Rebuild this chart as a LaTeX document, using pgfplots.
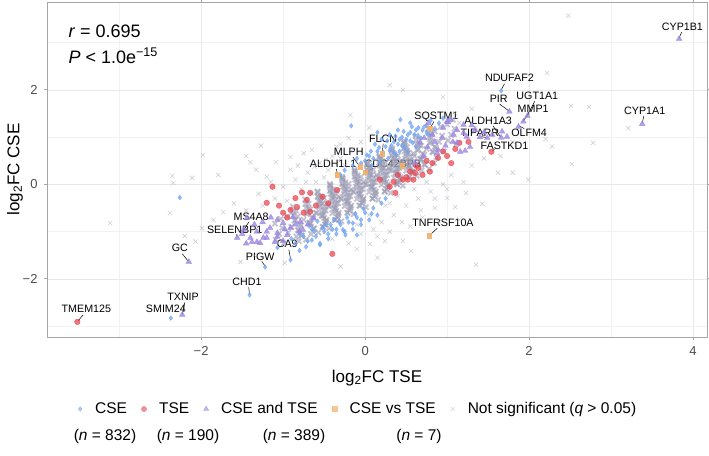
\documentclass[border=0pt]{standalone}
\usepackage{pgfplots}
\pgfplotsset{compat=1.18}
\usepackage{fontspec}
\setmainfont{Liberation Sans}

\definecolor{cseblue}{RGB}{112,164,242}
\definecolor{tsered}{RGB}{232,72,82}
\definecolor{bothpurple}{RGB}{156,134,226}
\definecolor{vsorange}{RGB}{242,176,104}
\definecolor{nsgray}{RGB}{160,160,178}
\definecolor{coregray}{RGB}{155,155,180}
\definecolor{ticktext}{RGB}{77,77,77}

\begin{document}
\begin{tikzpicture}
\path[use as bounding box] (-47bp,-119bp) rectangle (662bp,337bp);
\begin{axis}[
    at={(0,0)}, anchor=south west,
    scale only axis, width=660bp, height=335bp,
    xmin=-3.88, xmax=4.17, ymin=-3.23, ymax=3.86,
    xtick={-2,0,2,4}, ytick={-2,0,2},
    xticklabels={−2,0,2,4}, yticklabels={−2,0,2},
    minor xtick={-3,-1,1,3}, minor ytick={-3,-1,1,3},
    grid=both,
    major grid style={color=black!9, line width=0.6bp},
    minor grid style={color=black!5, line width=0.4bp},
    axis line style={color=black!35, line width=0.8bp},
    tick style={color=black!35, line width=0.8bp},
    tick align=outside, major tick length=3bp, minor tick length=0pt,
    ticklabel style={font=\fontsize{13bp}{15bp}\selectfont, text=ticktext},
    xticklabel style={yshift=-3bp},
    yticklabel style={xshift=-3bp},
    xlabel={log\textsubscript{2}FC TSE},
    ylabel={log\textsubscript{2}FC CSE},
    label style={font=\fontsize{17bp}{19bp}\selectfont},
    xlabel style={at={(axis description cs:0.5,-0.1224)}, anchor=center},
    ylabel style={at={(axis description cs:-0.0485,0.5)}, anchor=center},
    legend image code/.code={\path[draw=none,fill=none] (0bp,-2bp) rectangle (19bp,2bp);
        \draw[mark repeat=2,mark phase=2,#1] plot coordinates {(0bp,0bp) (6bp,0bp) (19bp,0bp)};},
    legend columns=5,
    legend style={at={(axis description cs:0.0409,-0.215)}, anchor=west,
        inner sep=0pt, draw=none, fill=none, font=\fontsize{15.5bp}{17bp}\selectfont,
        /tikz/every even column/.append style={column sep=9bp}},
]

% not significant, sparse halo
\addplot[only marks, mark=x, mark size=3bp, color=nsgray, opacity=0.5,
    mark options={line width=0.6bp}, forget plot] coordinates {
(-1.98,0.62) (-1.79,0.20) (-1.45,0.60) (-1.40,0.47) (-1.27,0.82) (-1.09,0.47)
(-1.33,0.31) (-1.20,0.16) (-2.35,0.18) (-2.34,0.03) (-2.11,0.14) (-0.91,0.58)
(-0.75,0.66) (-0.65,0.73) (-0.91,0.31) (-0.18,1.47) (-0.20,0.98) (-0.55,0.45)
(-0.70,0.25) (-0.85,0.10) (-1.00,-0.05) (-0.60,0.05) (-0.45,0.30) (-0.30,0.55)
(-0.35,0.80) (-0.15,0.75) (-1.10,-0.30) (-0.95,-0.35) (-0.78,-0.10) (-0.65,-0.20)
(-0.50,0.15) (-0.40,0.60) (-0.25,0.40) (-1.25,-0.45) (-1.45,-0.55)
(-3.11,-0.82) (-2.38,-0.61) (-2.20,-1.09) (-2.07,-1.21) (-1.73,-0.59) (-1.99,-0.93)
(-1.52,-1.64) (-0.98,-1.66) (-1.60,-0.40) (-1.85,-0.75) (-1.35,-1.50)
(1.35,-1.70) (0.56,-1.41) (0.46,-1.20) (1.43,-0.41) (1.10,-0.48) (1.00,-0.29)
(1.23,-0.18) (0.06,-1.26) (-0.10,-1.37) (0.24,-1.20) (0.55,-0.89) (-0.30,-1.74)
(0.20,-0.80) (0.35,-0.65) (0.50,-0.45) (0.65,-0.30) (0.80,-0.15) (0.95,0.00)
(0.10,-0.95) (0.30,-1.00) (0.70,-0.70) (0.85,-0.50) (1.20,0.05) (1.05,0.20)
(0.75,0.05) (0.60,-0.10) (0.40,-0.25) (0.25,-0.45) (0.05,-0.65) (-0.10,-0.85)
(-0.25,-1.00) (-0.40,-1.15) (-0.05,-1.05) (0.90,-0.80) (1.15,-0.75) (0.15,-1.55)
(2.48,3.57) (2.22,2.36) (0.30,2.10) (0.46,2.00) (0.95,1.85) (2.51,1.66)
(2.73,1.64) (3.21,1.19) (2.78,0.88) (2.52,0.43) (1.62,0.25) (1.80,0.25)
(1.99,0.10) (2.20,0.96) (2.28,0.80) (1.30,1.60) (1.10,1.50) (0.70,1.45)
(1.45,0.55) (1.30,0.40) (1.65,0.60) (1.80,0.90) (1.15,1.30) (1.35,1.20)
(-0.82,0.40) (-0.62,0.38) (-0.48,0.52) (-0.72,0.05) (-1.15,0.05) (-1.30,-0.20)
(-0.30,0.85) (-0.05,0.90) (0.05,1.20) (0.85,-0.30) (0.68,-0.55) (0.45,-0.80)
(0.15,-1.10) (-0.20,-1.25) (1.00,-0.10) (0.30,-0.40)
};

% not significant, dense core
\addplot[only marks, mark=x, mark size=3.6bp, color=coregray, opacity=0.6,
    mark options={line width=1.8bp}, forget plot] coordinates {
(-1.05,-1.05) (-1.01,-0.92) (-1.09,-1.17) (-0.99,-1.25) (-1.10,-0.83) (-1.03,-0.73)
(-0.90,-0.90) (-0.86,-0.77) (-0.94,-1.02) (-0.84,-1.10) (-0.95,-0.68) (-0.88,-0.58)
(-0.80,-0.85) (-0.85,-0.75) (-0.82,-0.97) (-0.87,-0.65) (-0.78,-1.08) (-0.84,-0.56)
(-0.81,-1.20) (-0.88,-0.47)
(-0.75,-0.75) (-0.71,-0.63) (-0.78,-0.87) (-0.69,-0.51) (-0.81,-0.97) (-0.73,-0.41)
(-0.77,-1.08) (-0.68,-0.81) (-0.82,-0.68) (-0.72,-1.17)
(-0.65,-0.70) (-0.70,-0.60) (-0.67,-0.82) (-0.72,-0.50) (-0.63,-0.93) (-0.69,-0.41)
(-0.66,-1.05) (-0.73,-0.32)
(-0.60,-0.60) (-0.56,-0.48) (-0.63,-0.72) (-0.54,-0.36) (-0.66,-0.82) (-0.58,-0.26)
(-0.62,-0.93) (-0.53,-0.66) (-0.67,-0.53) (-0.57,-1.02)
(-0.50,-0.47) (-0.55,-0.35) (-0.50,-0.71) (-0.57,-0.24) (-0.48,-0.81) (-0.53,-0.58)
(-0.58,-0.15) (-0.47,-0.41) (-0.59,-0.61) (-0.52,-0.90)
(-0.50,-0.55) (-0.55,-0.45) (-0.52,-0.67) (-0.57,-0.35) (-0.48,-0.78) (-0.54,-0.26)
(-0.51,-0.90) (-0.58,-0.17)
(-0.45,-0.45) (-0.41,-0.35) (-0.48,-0.55) (-0.39,-0.24) (-0.51,-0.65) (-0.43,-0.14)
(-0.47,-0.75) (-0.38,-0.50) (-0.52,-0.40) (-0.42,-0.03) (-0.49,-0.85) (-0.40,-0.61)
(-0.50,-0.29) (-0.44,-0.93)
(-0.36,-0.33) (-0.40,-0.20) (-0.35,-0.56) (-0.42,-0.09) (-0.33,-0.66) (-0.38,-0.43)
(-0.43,0.01) (-0.32,-0.26) (-0.44,-0.46) (-0.37,-0.75)
(-0.35,-0.40) (-0.40,-0.30) (-0.37,-0.52) (-0.42,-0.20) (-0.33,-0.63) (-0.39,-0.11)
(-0.36,-0.75) (-0.43,-0.02)
(-0.30,-0.30) (-0.26,-0.20) (-0.33,-0.40) (-0.24,-0.09) (-0.36,-0.50) (-0.28,0.01)
(-0.32,-0.60) (-0.23,-0.35) (-0.37,-0.25) (-0.27,0.12) (-0.34,-0.70) (-0.25,-0.46)
(-0.35,-0.14) (-0.29,-0.78)
(-0.21,-0.18) (-0.25,-0.05) (-0.20,-0.41) (-0.27,0.07) (-0.18,-0.51) (-0.23,-0.28)
(-0.28,0.16) (-0.17,-0.11) (-0.29,-0.31) (-0.22,-0.60)
(-0.20,-0.25) (-0.25,-0.15) (-0.22,-0.37) (-0.27,-0.05) (-0.18,-0.48) (-0.24,0.04)
(-0.21,-0.60) (-0.28,0.13)
(-0.15,-0.15) (-0.11,-0.05) (-0.18,-0.25) (-0.09,0.06) (-0.21,-0.35) (-0.13,0.16)
(-0.17,-0.45) (-0.08,-0.20) (-0.22,-0.10) (-0.12,0.27) (-0.19,-0.55) (-0.10,-0.31)
(-0.20,0.01) (-0.14,-0.63)
(-0.06,-0.03) (-0.10,0.11) (-0.05,-0.26) (-0.12,0.22) (-0.03,-0.36) (-0.08,-0.13)
(-0.13,0.31) (-0.02,0.05) (-0.14,-0.16) (-0.07,-0.45)
(-0.05,-0.10) (-0.10,0.00) (-0.07,-0.22) (-0.12,0.10) (-0.03,-0.33) (-0.09,0.19)
(-0.06,-0.45) (-0.13,0.28)
(0.00,0.00) (0.04,0.10) (-0.03,-0.10) (0.06,0.21) (-0.06,-0.20) (0.02,0.31)
(-0.02,-0.30) (0.07,-0.05) (-0.07,0.05) (0.03,0.42) (-0.04,-0.40) (0.05,-0.16)
(-0.05,0.16) (0.01,-0.48)
(0.10,0.13) (0.06,0.26) (0.11,-0.11) (0.04,0.37) (0.13,-0.21) (0.08,0.03)
(0.03,0.46) (0.14,0.20) (0.02,0.00) (0.09,-0.30)
(0.10,0.05) (0.05,0.15) (0.08,-0.07) (0.03,0.25) (0.12,-0.18) (0.06,0.34)
(0.09,-0.30) (0.02,0.43)
(0.15,0.15) (0.19,0.25) (0.12,0.05) (0.21,0.36) (0.09,-0.05) (0.17,0.46)
(0.13,-0.15) (0.22,0.10) (0.08,0.20) (0.18,0.57) (0.11,-0.25) (0.20,-0.01)
(0.10,0.31) (0.16,-0.33)
(0.25,0.28) (0.21,0.41) (0.26,0.05) (0.19,0.52) (0.28,-0.06) (0.23,0.18)
(0.18,0.61) (0.29,0.35) (0.17,0.15) (0.24,-0.15)
(0.25,0.20) (0.20,0.30) (0.23,0.08) (0.18,0.40) (0.27,-0.03) (0.21,0.49)
(0.24,-0.15) (0.17,0.58)
(0.30,0.30) (0.34,0.40) (0.27,0.20) (0.36,0.51) (0.24,0.10) (0.32,0.61)
(0.28,0.00) (0.37,0.25) (0.23,0.35) (0.33,0.72) (0.26,-0.10) (0.35,0.14)
(0.25,0.46) (0.31,-0.18)
(0.40,0.43) (0.36,0.56) (0.41,0.20) (0.34,0.67) (0.43,0.10) (0.38,0.33)
(0.33,0.76) (0.44,0.50) (0.32,0.30) (0.39,0.01)
(0.40,0.35) (0.35,0.45) (0.38,0.23) (0.33,0.55) (0.42,0.12) (0.36,0.64)
(0.39,0.00) (0.32,0.73)
(0.45,0.45) (0.49,0.55) (0.42,0.35) (0.51,0.66) (0.39,0.25) (0.47,0.76)
(0.43,0.15) (0.52,0.40) (0.38,0.50) (0.48,0.87) (0.41,0.05) (0.50,0.29)
(0.40,0.61) (0.46,-0.03)
(0.55,0.58) (0.51,0.71) (0.56,0.35) (0.49,0.82) (0.58,0.25) (0.53,0.48)
(0.48,0.91) (0.59,0.65) (0.47,0.45) (0.54,0.16)
(0.55,0.50) (0.50,0.60) (0.53,0.38) (0.48,0.70) (0.57,0.27) (0.51,0.79)
(0.54,0.15) (0.47,0.88)
(0.60,0.60) (0.64,0.72) (0.57,0.48) (0.66,0.84) (0.54,0.38) (0.62,0.94)
(0.58,0.27) (0.67,0.54) (0.53,0.67) (0.63,0.18)
(0.70,0.65) (0.65,0.75) (0.68,0.53) (0.63,0.85) (0.72,0.42) (0.66,0.94)
(0.69,0.30) (0.62,1.03)
(0.75,0.75) (0.79,0.87) (0.72,0.63) (0.81,0.99) (0.69,0.53) (0.77,1.09)
(0.73,0.42) (0.82,0.69) (0.68,0.82) (0.78,0.33)
(0.85,0.80) (0.80,0.90) (0.83,0.68) (0.78,1.00) (0.87,0.57) (0.81,1.09)
(0.84,0.45) (0.77,1.18)
(0.90,0.90) (0.94,1.03) (0.86,0.78) (0.96,0.70) (0.85,1.12) (0.92,1.22)
(1.05,1.05) (1.09,1.18) (1.01,0.93) (1.11,0.85) (1.00,1.27) (1.07,1.37)
};

% CSE
\addplot[only marks, mark=diamond*, mark size=2.4bp, color=cseblue, opacity=0.75, forget plot] coordinates {
(0.10,0.55) (0.15,0.70) (0.20,0.60) (0.25,0.80) (0.30,0.72) (0.35,0.90)
(0.40,0.85) (0.45,1.00) (0.50,0.95) (0.55,1.10) (0.60,1.05) (0.65,1.20)
(0.70,1.15) (0.75,1.25) (0.30,1.05) (0.40,1.15) (0.20,0.95) (0.05,0.60)
(0.00,0.50) (-0.05,0.45) (0.12,0.85) (0.48,0.78) (0.58,0.88) (0.68,0.98)
(0.78,1.05) (0.85,1.18) (0.38,0.62) (0.28,0.55) (0.18,0.48) (0.62,0.80)
(0.52,0.70) (0.42,0.70) (-0.17,1.24) (0.15,1.10) (0.90,1.30) (-0.15,0.40)
(-0.10,0.55) (0.08,0.40) (-0.25,0.30) (-0.30,0.20) (0.43,1.37) (0.55,1.30)
(0.22,0.68) (0.32,0.82) (0.42,0.95) (0.52,1.05) (0.62,1.15) (0.72,1.22)
(0.35,0.68) (0.45,0.82) (0.55,0.92) (0.65,1.02) (0.75,1.10) (0.27,0.92)
(0.37,1.02) (0.47,1.12) (0.57,1.22) (0.17,0.78) (0.07,0.70) (0.02,0.62)
(0.80,1.35) (0.95,1.40)
(-0.60,-1.10) (-0.50,-1.00) (-0.40,-0.95) (-0.30,-0.85) (-0.20,-0.80) (-0.10,-0.70)
(0.00,-0.60) (0.10,-0.50) (-0.70,-1.20) (-0.55,-1.25) (-0.45,-1.15) (-0.35,-1.05)
(-0.25,-1.00) (-0.15,-0.95) (-0.05,-0.85) (0.05,-0.75) (0.15,-0.65) (-0.80,-1.05)
(-0.65,-0.95) (-0.27,-0.96) (-0.10,-1.07) (-0.55,-1.28) (-1.07,-1.34) (-0.85,-1.25)
(0.20,-0.40) (0.25,-0.30) (-0.48,-0.85) (-0.38,-0.75) (-0.58,-0.78) (-0.68,-0.88)
(-0.24,-1.07) (-0.80,-1.40)
(-0.62,-1.00) (-0.52,-0.92) (-0.42,-0.85) (-0.32,-0.78) (-0.22,-0.70) (-0.12,-0.62)
(-0.02,-0.52) (-0.75,-1.10) (-0.65,-1.18) (-0.45,-1.05) (-0.35,-0.95) (-0.15,-0.82)
(-0.05,-0.75) (0.08,-0.62) (-0.90,-1.15) (-0.72,-1.32)
(-2.26,-0.28) (-0.91,-1.60) (-1.22,-1.75) (-1.41,-2.34) (-2.37,-2.83) (1.66,1.98)
};

% TSE
\addplot[only marks, mark=*, mark size=2.8bp, color=tsered, opacity=0.75, forget plot] coordinates {
(0.18,0.10) (0.46,0.10) (0.59,0.10) (0.55,0.27) (0.79,0.27) (0.82,0.45)
(0.89,0.56) (1.26,0.90) (0.35,0.05) (0.65,0.35) (0.70,0.20) (0.95,0.70)
(1.00,0.60) (0.75,0.50) (0.62,0.40) (1.10,0.75) (0.40,0.20) (0.50,0.15)
(1.15,0.88) (0.30,-0.05) (1.05,0.45) (0.37,-0.18) (0.52,0.10) (0.61,0.24)
(-1.13,-0.05) (-1.20,-0.39) (-0.77,-0.17) (-0.67,-0.18) (-0.83,-0.48) (-0.67,-0.58)
(-0.91,-0.54) (-0.71,-0.33) (-0.52,-0.26) (-0.34,-0.12) (-0.85,-0.29) (-1.00,-0.60)
(-0.95,-0.70) (-0.60,-0.45) (-0.75,-0.60) (-1.05,-0.45) (-0.45,-0.40)
(-3.51,-2.91) (1.54,0.69) (-0.40,-1.47)
};

% CSE and TSE
\addplot[only marks, mark=triangle*, mark size=3.3bp, color=bothpurple, opacity=0.8, forget plot] coordinates {
(1.01,1.32) (1.12,1.15) (0.82,1.05) (0.94,0.98) (1.07,0.90) (1.20,1.09)
(1.28,0.79) (1.40,1.00) (0.67,0.88) (0.76,0.79) (0.89,0.73) (1.16,0.69)
(1.04,1.37) (1.20,1.26) (1.34,1.15) (1.24,1.01) (1.12,0.88) (1.22,0.71)
(1.73,1.01) (1.67,1.12) (0.88,0.66) (0.71,0.59) (0.61,0.45) (0.77,1.30)
(1.00,1.33) (0.95,1.20) (1.08,1.05) (0.85,0.90) (1.30,1.25) (1.45,1.10)
(1.55,1.05) (0.72,0.98) (0.98,0.82)
(3.83,3.08) (3.38,1.28) (1.76,1.54) (1.98,1.45) (1.93,1.33) (1.87,1.22)
(1.66,0.99) (1.49,0.98)
(-1.40,-1.13) (-1.24,-1.13) (-1.07,-0.75) (-1.00,-0.82) (-0.88,-0.69) (-0.79,-0.79)
(-0.63,-0.71) (-0.91,-0.92) (-1.16,-0.92) (-1.32,-1.00) (-1.07,-1.03) (-0.76,-0.96)
(-1.44,-0.71) (-1.32,-1.22) (-1.20,-1.13) (-1.07,-1.11) (-0.95,-1.07) (-1.38,-1.22)
(-1.28,-1.24) (-1.25,-0.80) (-1.15,-0.70)
(-1.50,-1.05) (-1.35,-0.85) (-1.20,-1.00) (-0.85,-0.85) (-0.70,-0.85) (-1.10,-1.22)
(-0.98,-0.95) (-1.45,-1.25) (-1.00,-1.20) (-0.80,-1.00)
(-1.48,-0.96) (-1.56,-1.13) (-2.15,-1.64) (-2.23,-2.76)
};

% CSE vs TSE
\addplot[only marks, mark=square*, mark size=2.3bp, color=vsorange, opacity=0.9, forget plot] coordinates {
(0.79,1.19) (0.21,0.65) (-0.06,0.37) (0.78,-1.09) (-0.34,0.20) (0.00,0.26) (0.45,0.40)
};

% gene labels
\begin{scope}[every node/.style={font=\fontsize{10.7bp}{12bp}\selectfont, inner sep=0pt}]
\node at (axis cs:3.87,3.33) {CYP1B1};
\node at (axis cs:3.41,1.56) {CYP1A1};
\node at (axis cs:1.76,2.25) {NDUFAF2};
\node at (axis cs:1.63,1.81) {PIR};
\node at (axis cs:2.10,1.87) {UGT1A1};
\node at (axis cs:2.05,1.60) {MMP1};
\node at (axis cs:2.00,1.09) {OLFM4};
\node at (axis cs:1.50,1.35) {ALDH1A3};
\node at (axis cs:1.40,1.09) {TIPARR};
\node at (axis cs:1.70,0.81) {FASTKD1};
\node at (axis cs:0.87,1.43) {SQSTM1};
\node at (axis cs:0.22,0.96) {FLCN};
\node at (axis cs:-0.20,0.69) {MLPH};
\node at (axis cs:-0.39,0.43) {ALDH1L1};
\node at (axis cs:0.34,0.43) {CDC42BPB};
\node at (axis cs:-1.39,-0.69) {MS4A8};
\node at (axis cs:-1.59,-0.96) {SELENBP1};
\node at (axis cs:-0.95,-1.26) {CA9};
\node at (axis cs:-1.28,-1.53) {PIGW};
\node at (axis cs:-1.44,-2.06) {CHD1};
\node at (axis cs:-2.26,-1.35) {GC};
\node at (axis cs:-2.22,-2.38) {TXNIP};
\node at (axis cs:-2.43,-2.64) {SMIM24};
\node at (axis cs:-3.40,-2.64) {TMEM125};
\node at (axis cs:0.95,-0.82) {TNFRSF10A};
\end{scope}
\begin{scope}[line width=0.5bp]
\draw (axis cs:3.86,3.22) -- (axis cs:3.83,3.10);
\draw (axis cs:3.40,1.45) -- (axis cs:3.38,1.30);
\draw (axis cs:1.70,2.13) -- (axis cs:1.66,2.00);
\draw (axis cs:1.64,1.70) -- (axis cs:1.75,1.56);
\draw (axis cs:2.07,1.76) -- (axis cs:1.98,1.47);
\draw (axis cs:2.00,1.50) -- (axis cs:1.93,1.35);
\draw (axis cs:1.94,1.18) -- (axis cs:1.88,1.24);
\draw (axis cs:1.56,1.24) -- (axis cs:1.65,1.01);
\draw (axis cs:1.42,1.01) -- (axis cs:1.48,0.99);
\draw (axis cs:1.58,0.75) -- (axis cs:1.55,0.70);
\draw (axis cs:0.84,1.33) -- (axis cs:0.80,1.21);
\draw (axis cs:0.22,0.86) -- (axis cs:0.21,0.67);
\draw (axis cs:-0.15,0.58) -- (axis cs:-0.07,0.39);
\draw (axis cs:-0.35,0.33) -- (axis cs:-0.34,0.22);
\draw (axis cs:0.10,0.34) -- (axis cs:0.01,0.27);
\draw (axis cs:-1.42,-0.80) -- (axis cs:-1.47,-0.94);
\draw (axis cs:-1.57,-1.06) -- (axis cs:-1.56,-1.11);
\draw (axis cs:-0.93,-1.38) -- (axis cs:-0.91,-1.58);
\draw (axis cs:-1.26,-1.63) -- (axis cs:-1.22,-1.73);
\draw (axis cs:-1.42,-2.18) -- (axis cs:-1.41,-2.32);
\draw (axis cs:-2.23,-1.47) -- (axis cs:-2.16,-1.62);
\draw (axis cs:-2.20,-2.50) -- (axis cs:-2.23,-2.74);
\draw (axis cs:-3.44,-2.76) -- (axis cs:-3.50,-2.89);
\draw (axis cs:0.88,-0.93) -- (axis cs:0.79,-1.07);
\end{scope}

\node[anchor=west, font=\fontsize{18bp}{20bp}\selectfont, inner sep=0pt] at (axis cs:-3.62,3.23) {\textit{r} = 0.695};
\node[anchor=west, font=\fontsize{18bp}{20bp}\selectfont, inner sep=0pt] at (axis cs:-3.62,2.72) {\textit{P} < 1.0e\textsuperscript{−15}};

\addlegendimage{only marks, mark=diamond*, mark size=2.3bp, color=cseblue, opacity=0.6}
\addlegendentry{CSE}
\addlegendimage{only marks, mark=*, mark size=2.6bp, color=tsered, opacity=0.6}
\addlegendentry{TSE}
\addlegendimage{only marks, mark=triangle*, mark size=3bp, color=bothpurple, opacity=0.6}
\addlegendentry{CSE and TSE}
\addlegendimage{only marks, mark=square*, mark size=2.4bp, color=vsorange, opacity=0.7}
\addlegendentry{CSE vs TSE}
\addlegendimage{only marks, mark=x, mark size=2.8bp, color=nsgray, opacity=0.4, mark options={line width=0.5bp}}
\addlegendentry{Not significant (\textit{q} > 0.05)}
\end{axis}
\begin{scope}[every node/.style={font=\fontsize{15.5bp}{17bp}\selectfont}]
\node at (58bp,-99bp) {(\textit{n} = 832)};
\node at (141bp,-99bp) {(\textit{n} = 190)};
\node at (247bp,-99bp) {(\textit{n} = 389)};
\node at (372bp,-99bp) {(\textit{n} = 7)};
\end{scope}
\end{tikzpicture}
\end{document}
